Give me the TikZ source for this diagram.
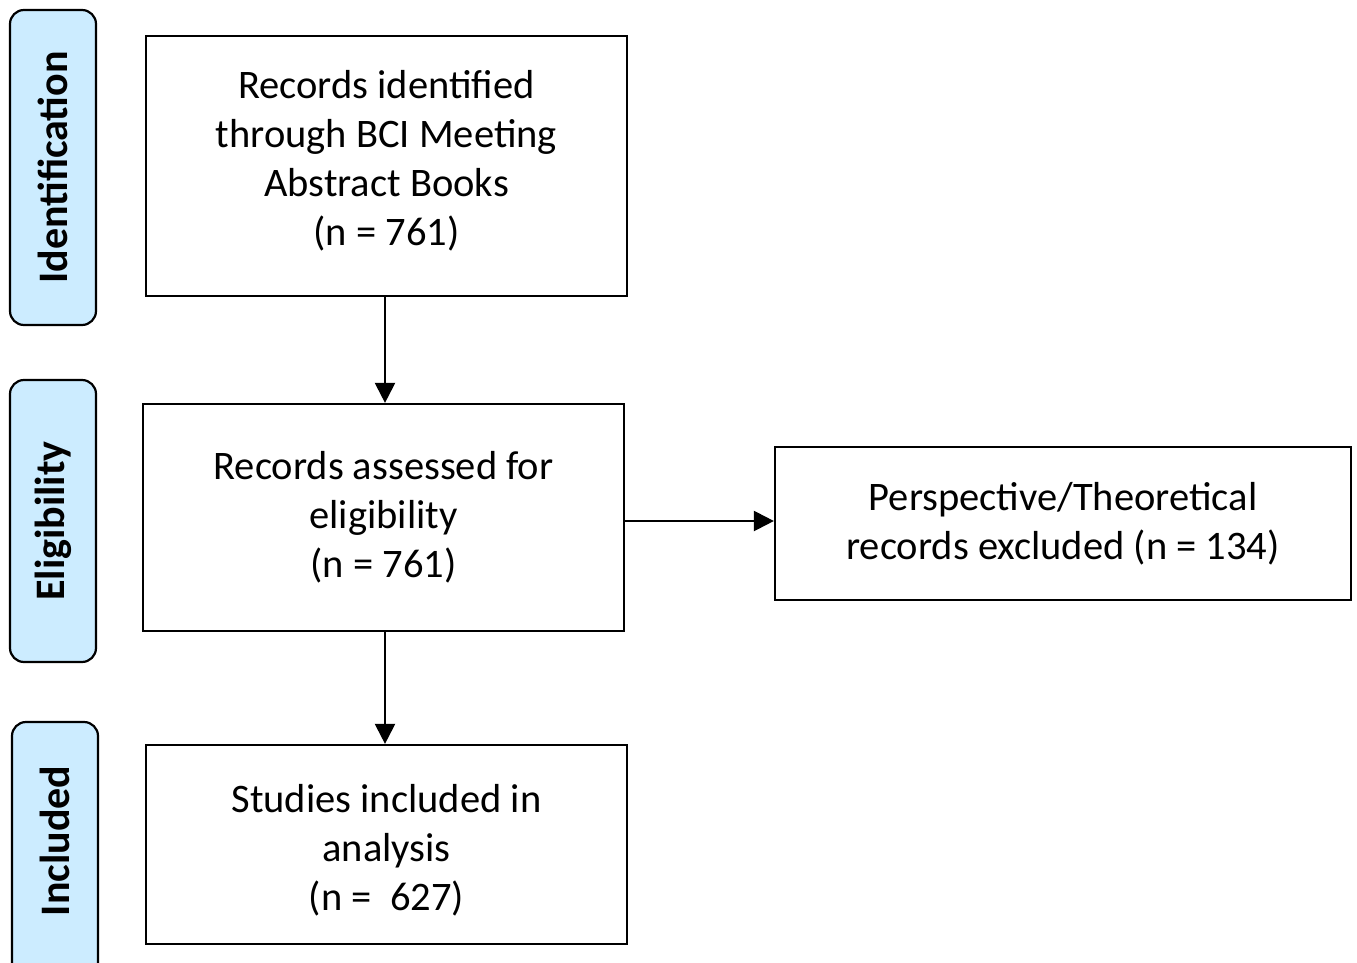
\documentclass[tikz,border=0pt]{standalone}
\usepackage{fontspec}
\setmainfont{Carlito}
\usetikzlibrary{arrows.meta}
\definecolor{sideblue}{RGB}{204,236,255}
\tikzset{
  x=1pt, y=-1pt,
  mainbox/.style={draw, line width=2.2pt, align=center, inner sep=0pt,
    font=\fontsize{40.5}{49}\selectfont},
  sidebox/.style={draw, line width=2.2pt, fill=sideblue, rounded corners=14pt,
    inner sep=0pt, font=\fontsize{42}{46}\selectfont\bfseries},
  flow/.style={line width=2.2pt, -{Triangle[length=20pt,width=20pt]}}
}
\begin{document}
\begin{tikzpicture}
\clip (0,0) rectangle (1357,963);
\useasboundingbox (0,0) rectangle (1357,963);
% side labels
\node[sidebox, minimum width=315pt, minimum height=86pt, rotate=90] (sid) at (53,167.5) {Identification};
\node[sidebox, minimum width=282pt, minimum height=86pt, rotate=90] (sel) at (53,521) {Eligibility};
\node[sidebox, minimum width=260pt, minimum height=86pt, rotate=90] (sin) at (55,852) {\hspace*{22pt}Included};
% main boxes
\node[mainbox, minimum width=481pt, minimum height=260pt] (b1) at (386.5,166)
  {Records identified\\through BCI Meeting\\Abstract Books\\(n = 761)\rule[-16pt]{0pt}{0pt}};
\node[mainbox, minimum width=481pt, minimum height=227pt] (b2) at (383.5,517.5)
  {Records assessed for\\eligibility\\(n = 761)};
\node[mainbox, minimum width=576pt, minimum height=153pt] (b3) at (1063,523.5)
  {Perspective/Theoretical\\records excluded (n = 134)};
\node[mainbox, minimum width=481pt, minimum height=199pt] (b4) at (386.5,844.5)
  {\rule{0pt}{40pt}Studies included in\\analysis\\(n = \ 627)};
% connectors
\draw[flow] ([xshift=-1.5pt]b1.south) -- ([xshift=-1.5pt]b1.south |- b2.north);
\draw[flow] ([xshift=1.5pt]b2.south) -- ([xshift=1.5pt]b2.south |- b4.north);
\draw[flow] (b2.east |- 0,521) -- (b3.west |- 0,521);
\end{tikzpicture}
\end{document}
